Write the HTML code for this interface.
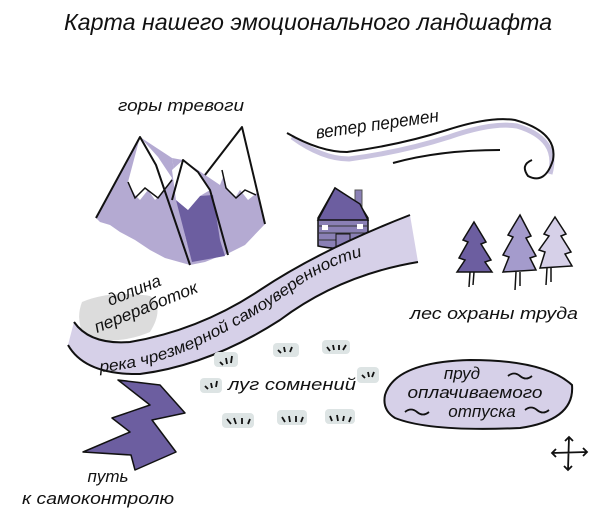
<!DOCTYPE html>
<html><head><meta charset="utf-8"><style>
html,body{margin:0;padding:0;background:#fff;}
svg{display:block;}
text{font-family:"Liberation Sans","DejaVu Sans",sans-serif;font-style:italic;fill:#111;}
</style></head><body>
<svg width="614" height="517" viewBox="0 0 614 517" xmlns="http://www.w3.org/2000/svg">
<defs>
<path id="rp" d="M100,372 Q150,368 200,345 Q260,315 300,285 Q340,258 390,250"/>
</defs>
<text x="308" y="30" font-size="23" text-anchor="middle" textLength="488" lengthAdjust="spacingAndGlyphs">Карта нашего эмоционального ландшафта</text>
<text x="181" y="111" font-size="17" text-anchor="middle" textLength="126" lengthAdjust="spacingAndGlyphs">горы тревоги</text>

<!-- mountains -->
<path d="M140,137 L96,218 L100,222 L110,225 L120,232 L135,240 L150,250 L165,258 L190,265 L172,158 Z" fill="#b4aad2"/>
<path d="M183,160 L172,158 L190,265 L205,262 L215,258 L225,255 L235,250 L245,245 L265,224 L242,127 L220,185 Z" fill="#b4aad2"/>
<path d="M176,200 L188,210 L200,196 L213,195 L220,240 L225,256 L192,262 Z" fill="#6c5ea0"/>
<path d="M140,137 L128,182 L135,195 L140,200 L148,190 L155,200 L165,190 L172,178 L158,157 Z" fill="#fff"/>
<path d="M183,160 L172,170 L176,200 L188,210 L200,196 L210,190 L198,172 Z" fill="#fff"/>
<path d="M242,127 L222,170 L225,185 L235,198 L240,190 L248,200 L258,192 L248,150 Z" fill="#fff"/>
<path d="M96,218 L140,137 L156,165 L190,265 M172,200 L183,160 L198,172 L210,190 L228,255 M205,175 L242,127 L265,224" fill="none" stroke="#111" stroke-width="2" stroke-linejoin="round"/>
<path d="M128,182 L135,198 L145,188 L158,198 L172,180 M222,170 L226,188 L236,198 L245,190 L256,195" fill="none" stroke="#111" stroke-width="1.5"/>

<!-- wind -->
<path d="M290,133 Q320,155 347,155 Q400,148 447,133 Q490,118 515,122 Q558,135 548,170" fill="none" stroke="#c9c3df" stroke-width="5" transform="translate(2,4)"/>
<path d="M287,133 Q320,152 347,152 Q400,145 447,130 Q490,116 515,120 Q558,132 553,160 Q545,185 528,176 Q520,165 532,160" fill="none" stroke="#111" stroke-width="2"/>
<path d="M393,163 Q440,150 500,150" fill="none" stroke="#111" stroke-width="2"/>
<text x="378" y="130" font-size="18" text-anchor="middle" transform="rotate(-8 378 130)" textLength="124" lengthAdjust="spacingAndGlyphs">ветер перемен</text>

<!-- cabin -->
<rect x="355" y="190" width="7" height="22" fill="#8a80b5" stroke="#555" stroke-width="1"/>
<path d="M318,218 L335,188 L360,205 L368,218 L368,242 Q345,252 318,246 Z" fill="#8a80b5" stroke="#111" stroke-width="1.5"/>
<path d="M318,220 L335,188 L360,204 L368,220 Z" fill="#6c5ea0" stroke="#111" stroke-width="1.5"/>
<path d="M319,226 L367,226 M319,233 L367,233 M319,240 L367,240" stroke="#333" stroke-width="1"/>
<rect x="322" y="225" width="6" height="5" fill="#fff"/><rect x="357" y="224" width="6" height="5" fill="#fff"/>
<rect x="336" y="234" width="14" height="13" fill="#8a7fb5" stroke="#111" stroke-width="1"/>

<!-- valley -->
<path d="M82,302 Q110,290 150,296 Q165,308 150,332 Q120,345 85,338 Q75,320 82,302 Z" fill="#dcdcdc"/>
<text font-size="17" transform="translate(110,306) rotate(-22)">долина</text>
<text font-size="17" transform="translate(97,333) rotate(-22)" textLength="110" lengthAdjust="spacingAndGlyphs">переработок</text>

<!-- river -->
<path d="M74,322 Q90,345 130,342 Q200,330 260,290 Q320,250 410,215 L418,262 Q340,275 280,320 Q210,365 140,374 Q85,375 68,345 Z" fill="#d6d0e8"/>
<path d="M74,322 Q90,345 130,342 Q200,330 260,290 Q320,250 410,215" fill="none" stroke="#111" stroke-width="2"/>
<path d="M68,345 Q85,375 140,374 Q210,365 280,320 Q340,275 418,262" fill="none" stroke="#111" stroke-width="2"/>
<text font-size="16"><textPath href="#rp" textLength="290" lengthAdjust="spacingAndGlyphs">река чрезмерной самоуверенности</textPath></text>

<!-- trees -->
<path d="M474,222 L486,242 L481,244 L491,260 L485,262 L492,272 L457,272 L465,260 L459,258 L468,242 L463,240 Z" fill="#6c5ea0" stroke="#111" stroke-width="1.5"/>
<path d="M520,215 L531,236 L526,238 L536,256 L530,258 L536,270 L503,272 L509,257 L503,255 L513,237 L508,235 Z" fill="#a49bcc" stroke="#111" stroke-width="1.5"/>
<path d="M555,217 L566,234 L561,236 L571,252 L565,254 L572,266 L540,268 L545,252 L539,250 L549,236 L544,234 Z" fill="#d6d0e8" stroke="#111" stroke-width="1.5"/>
<path d="M470,272 L469,287 M474,272 L473,285 M516,272 L515,290 M520,272 L520,286 M547,268 L546,285 M551,268 L551,282" stroke="#111" stroke-width="1.5"/>
<text x="494" y="319" font-size="17" text-anchor="middle" textLength="168" lengthAdjust="spacingAndGlyphs">лес охраны труда</text>

<!-- meadow -->
<g fill="#dde4e4" stroke="none">
<rect x="214" y="352" width="24" height="15" rx="4"/><rect x="273" y="343" width="26" height="14" rx="4"/><rect x="322" y="340" width="28" height="14" rx="4"/>
<rect x="200" y="378" width="22" height="15" rx="4"/><rect x="357" y="367" width="22" height="16" rx="4"/>
<rect x="222" y="413" width="32" height="15" rx="4"/><rect x="277" y="410" width="30" height="15" rx="4"/><rect x="325" y="409" width="30" height="15" rx="4"/>
</g>
<g stroke="#111" stroke-width="1.8" fill="none">
<path d="M220,362l3,3 M226,358l1,6 M232,356l-1,7 M278,350l3,3 M284,347l1,5 M292,347l-2,5 M327,347l3,4 M333,345l1,5 M339,345l0,5 M346,345l-3,5 M205,386l3,3 M211,383l1,5 M217,381l-1,6 M362,375l3,3 M368,372l1,5 M374,372l-2,5 M227,419l4,5 M234,418l2,6 M242,418l0,6 M250,419l-2,5 M282,417l3,5 M289,416l1,6 M296,416l0,6 M303,417l-2,5 M330,416l2,5 M337,415l1,6 M344,416l-1,5 M351,417l-2,5"/>
</g>
<text x="228" y="390" font-size="17" textLength="128" lengthAdjust="spacingAndGlyphs">луг сомнений</text>

<!-- pond -->
<path d="M385,395 Q395,362 470,360 Q545,360 572,385 Q575,420 520,428 Q430,432 395,418 Q382,410 385,395 Z" fill="#d6d0e8" stroke="#111" stroke-width="2"/>
<text x="462" y="379" font-size="17" text-anchor="middle">пруд</text>
<text x="475" y="398" font-size="17" text-anchor="middle" textLength="135" lengthAdjust="spacingAndGlyphs">оплачиваемого</text>
<text x="482" y="417" font-size="17" text-anchor="middle">отпуска</text>
<g stroke="#111" stroke-width="1.8" fill="none">
<path d="M508,376 q6,-5 12,0 q6,5 12,0 M405,412 q6,-5 12,0 q6,5 12,0 M525,410 q6,-5 12,0 q6,5 12,0"/>
</g>

<!-- lightning -->
<path d="M118,380 L160,385 L185,413 L152,420 L176,452 L135,470 L131,455 L83,452 L130,432 L112,418 L150,405 Z" fill="#6c5ea0" stroke="#111" stroke-width="1.5" stroke-linejoin="round"/>
<text x="108" y="482" font-size="17" text-anchor="middle">путь</text>
<text x="98" y="504" font-size="17" text-anchor="middle" textLength="152" lengthAdjust="spacingAndGlyphs">к самоконтролю</text>

<!-- compass -->
<g stroke="#111" stroke-width="1.8" fill="none">
<path d="M552,453 L587,452 M569,437 L568,470 M556,449 l-4,4 l4,4 M583,448 l4,4 l-4,4 M565,441 l4,-4 l4,4 M564,466 l4,4 l4,-4"/>
</g>
</svg>
</body></html>
